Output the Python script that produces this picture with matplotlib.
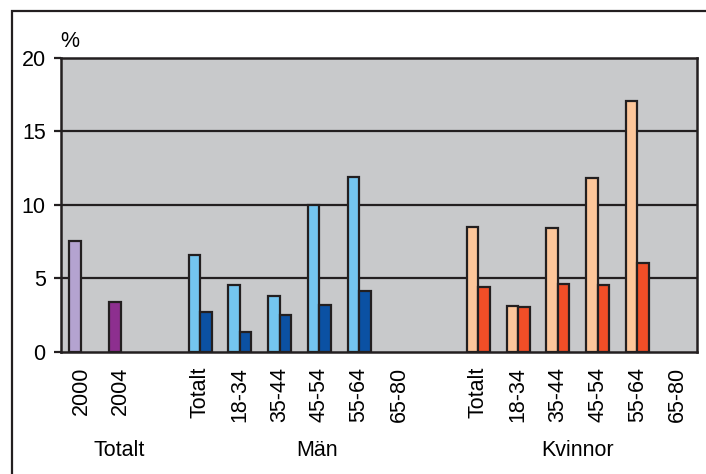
import matplotlib.pyplot as plt
import numpy as np
from matplotlib.patches import Rectangle

plt.rcParams['font.family'] = ['Liberation Sans', 'DejaVu Sans']

# 16 category slots: Totalt (2), blank, Män (6), blank, Kvinnor (6)
cats = ['2000', '2004', '',
        'Totalt', '18-34', '35-44', '45-54', '55-64', '65-80', '',
        'Totalt', '18-34', '35-44', '45-54', '55-64', '65-80']

# first bar in each slot (2000) and second bar (2004)
vals_a = [7.5, 3.4, np.nan,
          6.6, 4.5, 3.8, 10.0, 11.9, np.nan, np.nan,
          8.5, 3.1, 8.4, 11.8, 17.1, np.nan]
vals_b = [np.nan, np.nan, np.nan,
          2.7, 1.3, 2.5, 3.2, 4.1, np.nan, np.nan,
          4.4, 3.0, 4.6, 4.5, 6.0, np.nan]

lilac = '#b4a3d0'
plum = '#8d2f8f'
sky = '#74c5ef'
navy = '#0b51a3'
peach = '#fdc69a'
vermilion = '#f04e27'
cols_a = [lilac, plum, 'none'] + [sky] * 6 + ['none'] + [peach] * 6
cols_b = ['none'] * 3 + [navy] * 6 + ['none'] + [vermilion] * 6

groups = ['Totalt', 'Män', 'Kvinnor']
group_x = [1.47, 6.45, 13.0]

fs = 15.5
edge = '#231f20'
fig = plt.figure(figsize=(7.06, 4.74), dpi=100)
ax = fig.add_axes([61 / 706, (474 - 351.5) / 474, 636 / 706, 293.5 / 474])
ax.set_facecolor('#c8c9cb')

x = np.arange(len(cats)) + 0.5
w = 0.29
ax.bar(x - w / 2, vals_a, w, color=cols_a, edgecolor=edge, linewidth=1.6, zorder=3)
ax.bar(x + w / 2, vals_b, w, color=cols_b, edgecolor=edge, linewidth=1.6, zorder=3)

ax.set_xlim(0, len(cats))
ax.set_ylim(0, 20)
ax.set_yticks([0, 5, 10, 15, 20])
for yv in [5, 10, 15]:
    ax.axhline(yv, color=edge, linewidth=1.6, zorder=2)
ax.set_xticks(x)
ax.set_xticklabels(cats, rotation=90, fontsize=fs, va='top')
ax.tick_params(axis='x', length=0, pad=11)
ax.tick_params(axis='y', length=5, width=1.6, color=edge, labelsize=fs, pad=6)
for s in ax.spines.values():
    s.set_linewidth(1.8)
    s.set_color(edge)

ax.text(-0.02, 20.75, '%', fontsize=fs, ha='left', va='baseline')

for gx, g in zip(group_x, groups):
    fig.text((61 + gx * 39.75) / 706, 1 - 450 / 474, g, fontsize=fs, ha='center', va='center')

# outer frame
fig.patches.append(Rectangle((11.5 / 706, -0.1), 1.2, 1 - 10.5 / 474 + 0.1,
                             transform=fig.transFigure, fill=False,
                             edgecolor=edge, linewidth=1.6))

fig.savefig('out.png', dpi=100)
